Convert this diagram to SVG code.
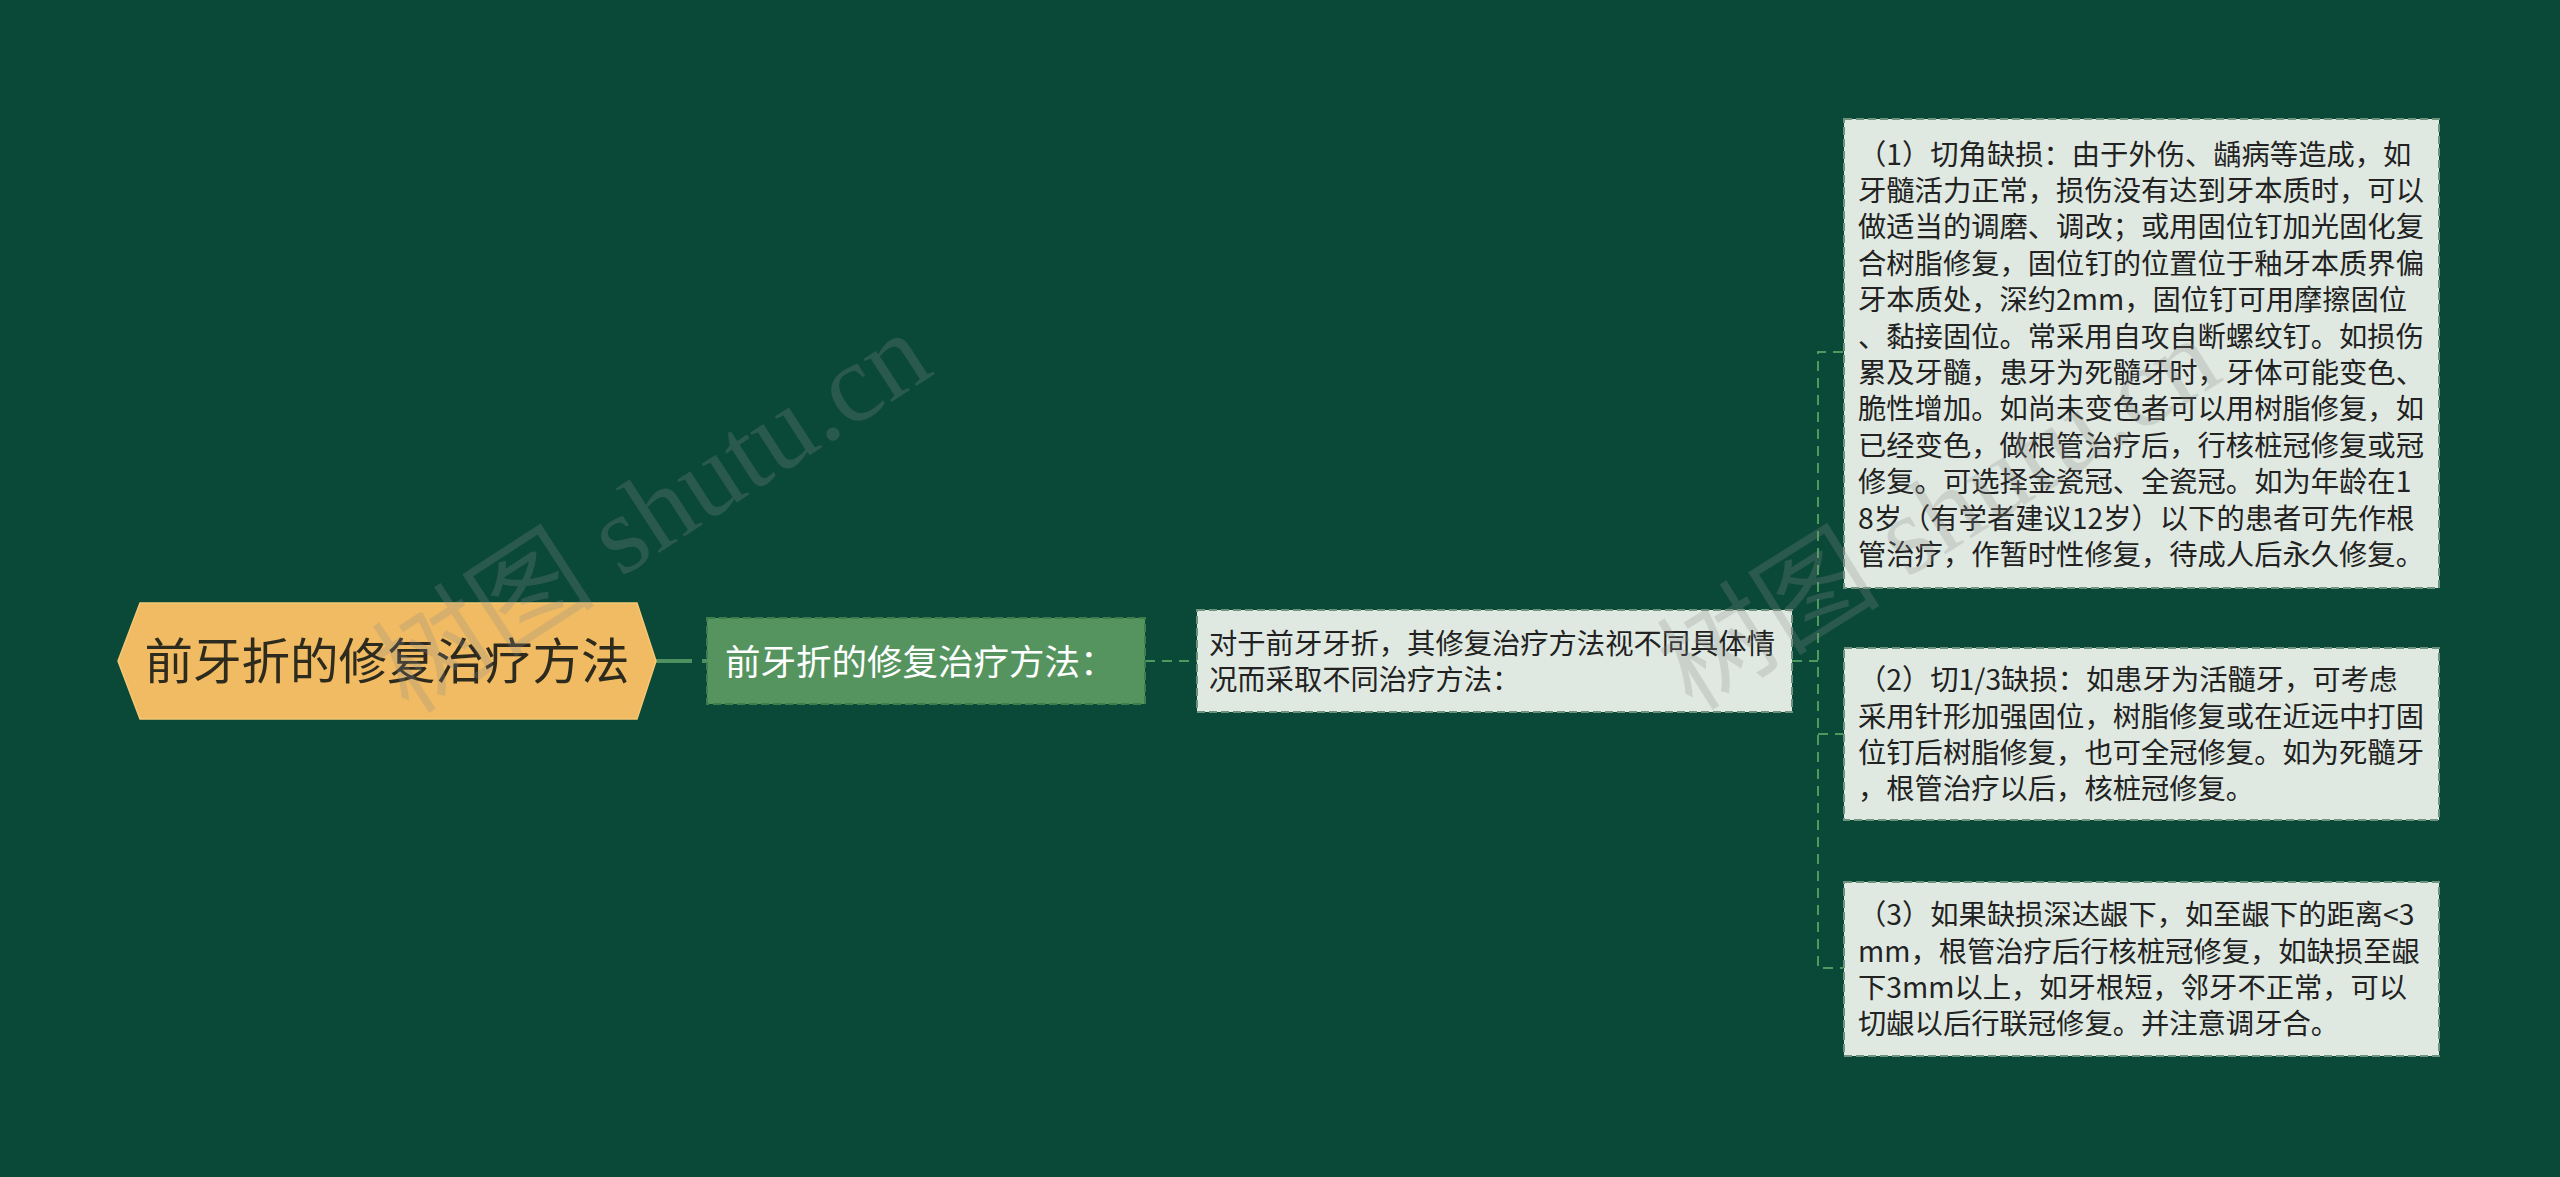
<svg xmlns="http://www.w3.org/2000/svg" width="2560" height="1177" viewBox="0 0 2560 1177">
<style>
.bg{fill:#0a4838}
.t{font-family:"Noto Sans CJK SC","Noto Sans",sans-serif}
.leaf rect{fill:#dfe9e1;stroke:#6f927c;stroke-width:2;stroke-dasharray:8 4}
.leaf text{font-size:28.3px;fill:#222222}
.conn{fill:none;stroke:#4e9a5e;stroke-width:2;stroke-dasharray:10 7}
.wm{font-family:"Liberation Serif","Noto Sans CJK SC",serif;font-size:112px;fill:#8a8a8a;fill-opacity:0.25}
</style>
<rect class="bg" x="0" y="0" width="2560" height="1177"/>

<g id="connectors">
<line x1="656" y1="661" x2="707" y2="661" stroke="#4e9060" stroke-width="4" stroke-dasharray="36 10"/>
<line class="conn" x1="1145" y1="661" x2="1197" y2="661"/>
<line class="conn" x1="1792" y1="661" x2="1818" y2="661"/>
<path class="conn" d="M1843 352 H1818 V968 H1843"/>
<line class="conn" x1="1818" y1="734" x2="1843" y2="734"/>
</g>

<g id="root">
<polygon points="118,661 140,603 637,603 656,661 637,719 140,719" fill="#f0bb62" stroke="#f6c774" stroke-width="1.5"/>
<text class="t" x="387" y="679" font-size="48.5" fill="#2d2a1e" text-anchor="middle">前牙折的修复治疗方法</text>
</g>

<g id="n1">
<rect x="707" y="618" width="438" height="86" fill="#55945f" stroke="#3f7d4c" stroke-width="2" stroke-dasharray="8 4"/>
<text class="t" x="725" y="674.5" font-size="35.5" fill="#ffffff">前牙折的修复治疗方法：</text>
</g>

<g id="n2" class="leaf">
<rect x="1197" y="610" width="595" height="102"/>
<text class="t" x="1209"><tspan x="1209" y="653.5">对于前牙牙折，其修复治疗方法视不同具体情</tspan><tspan x="1209" y="689.9">况而采取不同治疗方法：</tspan></text>
</g>

<g id="n3" class="leaf">
<rect x="1844" y="119" width="595" height="469"/>
<text class="t">
<tspan x="1858" y="164.5">（1）切角缺损：由于外伤、龋病等造成，如</tspan>
<tspan x="1858" y="200.9">牙髓活力正常，损伤没有达到牙本质时，可以</tspan>
<tspan x="1858" y="237.3">做适当的调磨、调改；或用固位钉加光固化复</tspan>
<tspan x="1858" y="273.7">合树脂修复，固位钉的位置位于釉牙本质界偏</tspan>
<tspan x="1858" y="310.1">牙本质处，深约2mm，固位钉可用摩擦固位</tspan>
<tspan x="1858" y="346.5">、黏接固位。常采用自攻自断螺纹钉。如损伤</tspan>
<tspan x="1858" y="382.9">累及牙髓，患牙为死髓牙时，牙体可能变色、</tspan>
<tspan x="1858" y="419.3">脆性增加。如尚未变色者可以用树脂修复，如</tspan>
<tspan x="1858" y="455.7">已经变色，做根管治疗后，行核桩冠修复或冠</tspan>
<tspan x="1858" y="492.1">修复。可选择金瓷冠、全瓷冠。如为年龄在1</tspan>
<tspan x="1858" y="528.5">8岁（有学者建议12岁）以下的患者可先作根</tspan>
<tspan x="1858" y="564.9">管治疗，作暂时性修复，待成人后永久修复。</tspan>
</text>
</g>

<g id="n4" class="leaf">
<rect x="1844" y="648" width="595" height="172"/>
<text class="t">
<tspan x="1858" y="690.2">（2）切1/3缺损：如患牙为活髓牙，可考虑</tspan>
<tspan x="1858" y="726.6">采用针形加强固位，树脂修复或在近远中打固</tspan>
<tspan x="1858" y="763">位钉后树脂修复，也可全冠修复。如为死髓牙</tspan>
<tspan x="1858" y="799.4">，根管治疗以后，核桩冠修复。</tspan>
</text>
</g>

<g id="n5" class="leaf">
<rect x="1844" y="882" width="595" height="174"/>
<text class="t">
<tspan x="1858" y="925.2">（3）如果缺损深达龈下，如至龈下的距离&lt;3</tspan>
<tspan x="1858" y="961.6">mm，根管治疗后行核桩冠修复，如缺损至龈</tspan>
<tspan x="1858" y="998">下3mm以上，如牙根短，邻牙不正常，可以</tspan>
<tspan x="1858" y="1034.4">切龈以后行联冠修复。并注意调牙合。</tspan>
</text>
</g>

<g id="watermarks">
<text class="wm" x="653" y="550" text-anchor="middle" transform="rotate(-33 653 514)">树图 shutu.cn</text>
<text class="wm" x="1940" y="551" text-anchor="middle" transform="rotate(-32 1940 515)">树图 shutu.cn</text>
</g>
</svg>
